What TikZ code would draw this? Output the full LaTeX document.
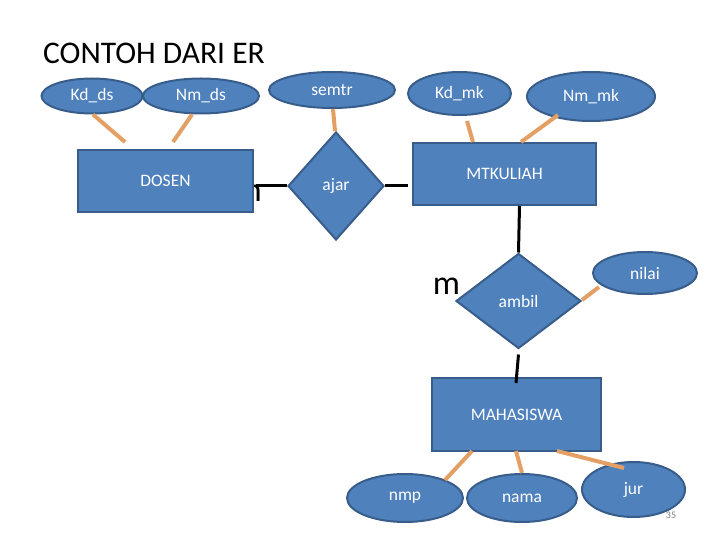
\documentclass[tikz,border=0pt]{standalone}
\usepackage{fontspec}
\setmainfont{Carlito}
\usetikzlibrary{shapes.geometric,calc}
\definecolor{boxfill}{RGB}{79,129,189}
\definecolor{boxline}{RGB}{56,93,138}
\definecolor{attrline}{RGB}{228,160,100}
\begin{document}
\begin{tikzpicture}[x=1pt,y=-1pt,
  ent/.style={draw=boxline, fill=boxfill, line width=2pt, text=white, font=\fontsize{17.5}{19}\selectfont, inner sep=0pt},
  attr/.style={ellipse, ent},
  rel/.style={diamond, ent},
  conn/.style={line width=3pt, black},
  alink/.style={line width=4pt, attrline},
  card/.style={font=\fontsize{34}{36}\selectfont, inner sep=0pt}]
\useasboundingbox (0,0) rectangle (720,540);

\node[anchor=base west, font=\fontsize{31.5}{33}\selectfont, inner sep=0pt] (title) at (43,64) {CONTOH DARI ER};

\node[card, anchor=base east] (nlab) at (262,202) {n};
\node[card, anchor=base] (mlab) at (446.5,294) {m};

\node[ent, minimum width=175pt, minimum height=62pt] (dosen) at (165.5,181) {DOSEN};
\node[ent, minimum width=183pt, minimum height=62pt] (mtk) at (504.5,174) {MTKULIAH};
\node[ent, minimum width=169pt, minimum height=73pt] (mhs) at (516.5,414.5) {MAHASISWA};

\node[rel, minimum width=96pt, minimum height=108pt] (ajar) at (336,186) {ajar};
\node[rel, minimum width=125pt, minimum height=95pt] (ambil) at (518.5,301) {ambil};

\node[attr, minimum width=101pt, minimum height=35pt] (kdds) at (92,96) {Kd\_ds};
\node[attr, minimum width=116pt, minimum height=35pt] (nmds) at (201,96) {Nm\_ds};
\node[attr, minimum width=126pt, minimum height=36pt] (semtr) at (332,90) {semtr};
\node[attr, minimum width=103pt, minimum height=43pt] (kdmk) at (459.5,93.5) {Kd\_mk};
\node[attr, minimum width=128pt, minimum height=49pt] (nmmk) at (591,96.5) {Nm\_mk};
\node[attr, minimum width=104pt, minimum height=42pt] (nilai) at (645,273) {nilai};
\node[attr, minimum width=116pt, minimum height=48pt] (nmp) at (405,498) {nmp};
\node[attr, minimum width=110pt, minimum height=48pt] (nama) at (522,498) {nama};
\node[attr, minimum width=103pt, minimum height=55pt] (jur) at (633.5,489.5) {jur};

\node[text=gray, font=\fontsize{10}{12}\selectfont, inner sep=0pt] (pg) at (671,515) {35};

% attribute links
\draw[alink] ($(kdds.south)+(1,0)$) -- ($(dosen.north west)+(48,-7)$);
\draw[alink] ($(nmds.south)+(-9,0)$) -- ($(dosen.north west)+(96,-7)$);
\draw[alink] ($(semtr.south)+(1,0)$) -- ($(ajar.north)+(-1,0)$);
\draw[alink] ($(kdmk.south)+(7.5,5)$) -- ($(mtk.north west)+(61,0)$);
\draw[alink] ($(nmmk.south)+(-33,-7)$) -- ($(mtk.north west)+(109,0)$);
\draw[alink] ($(ambil.east)+(0,-1)$) -- ($(nilai.center)+(-46,14)$);
\draw[alink] ($(mhs.south west)+(41,-1)$) -- ($(nmp.center)+(40,-18)$);
\draw[alink] ($(mhs.south)+(-0.5,-1)$) -- (nama.north);
\draw[alink] ($(mhs.south west)+(126,-1)$) -- ($(jur.center)+(-9.5,-21.5)$);

% relationship connectors
\draw[conn] (ajar.west) -- ($(dosen.east)+(2,5)$);
\draw[conn] (ajar.east) -- ($(mtk.west)+(-4,12)$);
\draw[conn] ($(mtk.south)+(15,0)$) -- (ambil.north);
\draw[conn] ($(ambil.south)+(0,5)$) -- ($(mhs.north)+(-0.5,6)$);
\end{tikzpicture}
\end{document}
